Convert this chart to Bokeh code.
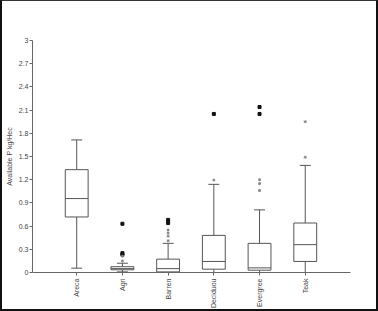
import numpy as np
from bokeh.plotting import figure
from bokeh.models import Range1d, FixedTicker, CustomJSTickFormatter
from bokeh.embed import file_html
from bokeh.resources import INLINE

categories = ["Areca", "Agri", "Barren", "Deciduou", "Evergree", "Teak"]
whisker_low = [0.056, 0.008, 0.0, 0.0, 0.0, 0.0]
q1 = [0.718, 0.035, 0.008, 0.043, 0.03, 0.143]
median = [0.956, 0.05, 0.05, 0.143, 0.06, 0.36]
q3 = [1.33, 0.075, 0.173, 0.48, 0.377, 0.64]
whisker_high = [1.714, 0.12, 0.377, 1.14, 0.81, 1.385]

square_cat = ["Agri", "Agri", "Agri", "Barren", "Barren", "Deciduou", "Evergree", "Evergree"]
square_val = [0.63, 0.25, 0.23, 0.68, 0.64, 2.05, 2.14, 2.05]
star_cat = ["Agri", "Agri", "Barren", "Barren", "Barren", "Barren", "Deciduou",
            "Evergree", "Evergree", "Evergree", "Teak", "Teak"]
star_val = [0.21, 0.15, 0.55, 0.51, 0.47, 0.41, 1.195, 1.2, 1.15, 1.06, 1.95, 1.49]

y_ticks = [0, 0.3, 0.6, 0.9, 1.2, 1.5, 1.8, 2.1, 2.4, 2.7, 3]

pos = {c: i for i, c in enumerate(categories)}
xs = np.arange(len(categories), dtype=float)
box_w = 0.5
cap_w = 0.24
line_col = "#555555"
axis_col = "#666666"
font = "Liberation Sans"

p = figure(width=378, height=311, output_backend="svg", toolbar_location=None,
           x_range=Range1d(-0.967, 5.99), y_range=Range1d(0, 3),
           min_border_left=23, min_border_right=30, min_border_top=39, min_border_bottom=40)
p.styles = {"border-left": "2px solid #111", "border-right": "2px solid #111",
            "border-bottom": "2px solid #111", "border-top": "1px solid #333"}
p.background_fill_color = "white"
p.border_fill_color = "white"
p.outline_line_color = None
p.grid.visible = False

# whiskers
p.segment(x0=xs, y0=whisker_low, x1=xs, y1=q1, line_color=line_col, line_width=1)
p.segment(x0=xs, y0=q3, x1=xs, y1=whisker_high, line_color=line_col, line_width=1)
p.segment(x0=xs - cap_w / 2, y0=whisker_low, x1=xs + cap_w / 2, y1=whisker_low, line_color=line_col, line_width=1)
p.segment(x0=xs - cap_w / 2, y0=whisker_high, x1=xs + cap_w / 2, y1=whisker_high, line_color=line_col, line_width=1)
# boxes
p.vbar(x=xs, width=box_w, bottom=q1, top=q3, fill_color="white", line_color=line_col, line_width=1)
p.segment(x0=xs - box_w / 2, y0=median, x1=xs + box_w / 2, y1=median, line_color=line_col, line_width=1)
# outliers
p.scatter(x=[pos[c] for c in square_cat], y=square_val, marker="square", size=3,
          fill_color="#111111", line_color="#111111")
p.scatter(x=[pos[c] for c in star_cat], y=star_val, marker="asterisk", size=3,
          line_color="#888888", line_width=1)

# axes
p.yaxis.ticker = FixedTicker(ticks=y_ticks)
p.yaxis.formatter = CustomJSTickFormatter(code="return tick.toFixed(1).replace(/\\.0$/, '');")
p.yaxis.axis_label = "Available P kg/Hec"
p.yaxis.axis_label_text_font = font
p.yaxis.axis_label_text_font_size = "7px"
p.yaxis.axis_label_text_font_style = "normal"
p.yaxis.axis_label_text_color = "#444444"
p.yaxis.axis_label_standoff = 3
p.xaxis.ticker = FixedTicker(ticks=list(range(len(categories))))
p.xaxis.major_label_overrides = {i: c for i, c in enumerate(categories)}
p.xaxis.major_label_orientation = np.pi / 2
for ax in (p.xaxis, p.yaxis):
    ax.axis_line_color = axis_col
    ax.major_tick_line_color = axis_col
    ax.minor_tick_line_color = None
    ax.major_tick_out = 3
    ax.major_tick_in = 0
    ax.major_label_text_font = font
    ax.major_label_text_font_size = "7px"
    ax.major_label_text_color = "#444444"
p.yaxis.major_label_standoff = 1
p.xaxis.major_label_standoff = 3

open("out.html", "w").write(file_html(p, INLINE))
